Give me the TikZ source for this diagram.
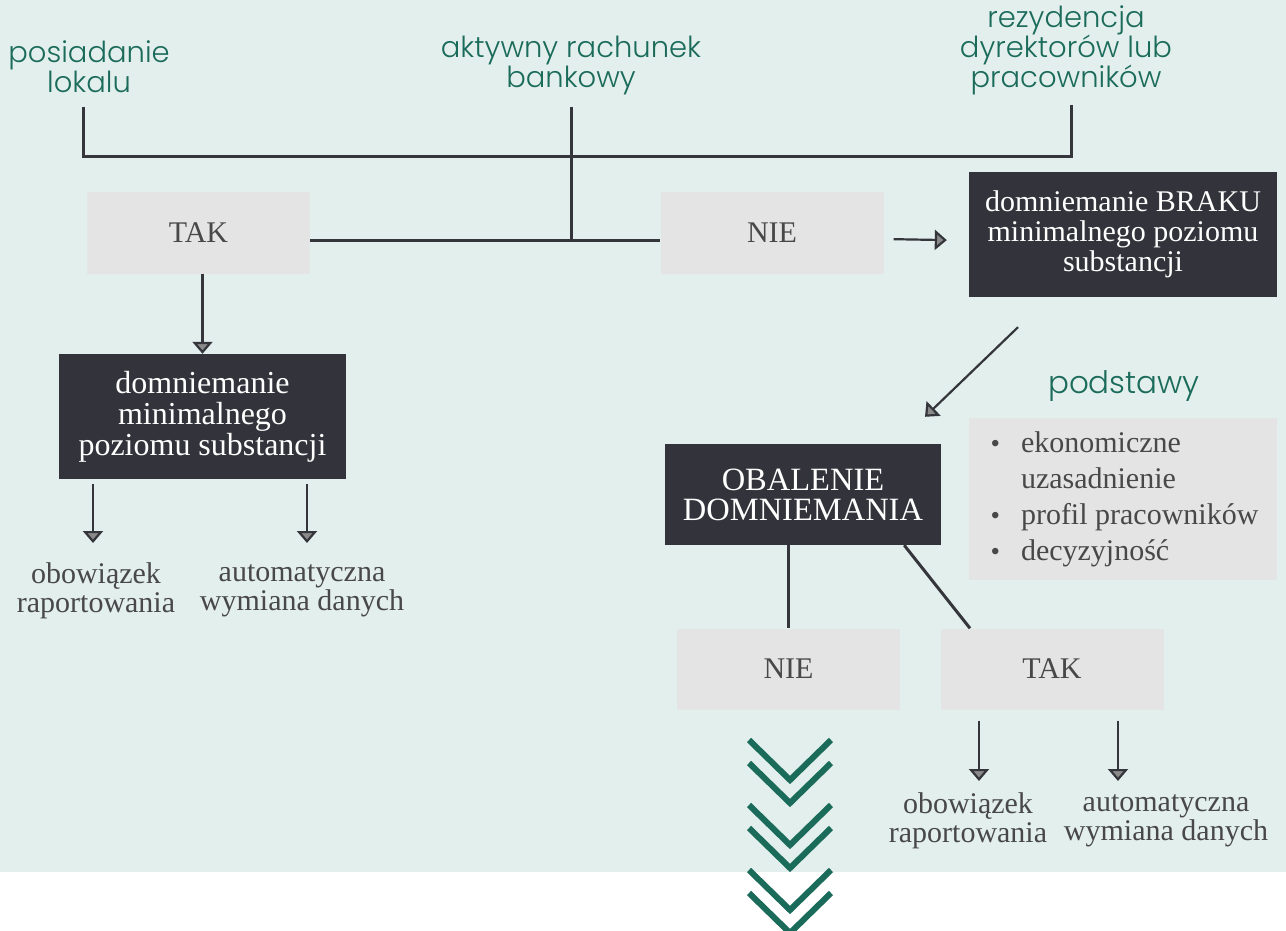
\documentclass[tikz,border=0pt]{standalone}
\usepackage{fontspec}
\setmainfont{Liberation Serif}
\newfontfamily\greenfont{Poppins Light}
\usetikzlibrary{arrows.meta}

\definecolor{bgteal}{HTML}{E3EFED}
\definecolor{boxgrey}{HTML}{E4E4E4}
\definecolor{boxdark}{HTML}{33333B}
\definecolor{labelgreen}{HTML}{1B6B5B}
\definecolor{textgrey}{HTML}{484848}
\definecolor{linedark}{HTML}{35353C}
\definecolor{headgrey}{HTML}{8A8A8A}

\tikzset{
  greybox/.style={fill=boxgrey, text=textgrey, minimum width=223pt, minimum height=81pt, inner sep=0pt, font=\fontsize{30}{30}\selectfont},
  darkbox/.style={fill=boxdark, text=white, align=center, inner sep=0pt, font=\fontsize{30}{30}\selectfont},
  greenlabel/.style={text=labelgreen, align=center, inner sep=0pt, font=\greenfont\fontsize{29}{30}\selectfont},
  result/.style={text=textgrey, align=center, inner sep=0pt, font=\fontsize{30}{29}\selectfont},
  link/.style={draw=linedark, line width=3pt},
  arr/.style={draw=linedark, line width=2.2pt, -{Triangle[width=20pt,length=12pt,fill=headgrey]}},
  chevron/.style={draw=labelgreen, line width=6pt}
}
\newcommand{\punkt}{{\fontsize{27}{27}\selectfont\textbullet}}

\begin{document}
\begin{tikzpicture}[x=1pt, y=-1pt]
	\fill[bgteal] (0,0) rectangle (1286,872);
	\useasboundingbox (0,0) rectangle (1286,931);
	% kryteria
	\node[greenlabel] (lokal) at (89,67) {posiadanie\\lokalu};
	\node[greenlabel] (rachunek) at (571,65) {aktywny rachunek\\bankowy};
	\node[greenlabel] (rezydencja) at (1066,50) {rezydencja\\dyrektorów lub\\pracowników};
	\coordinate (lokalend) at (83,107);
	\coordinate (rezend) at (1071,105);
	\coordinate (rachend) at (571,107);
	\coordinate (split) at (571,240);
	% pierwszy poziom
	\node[greybox] (tak) at (198.5,233) {TAK};
	\node[greybox] (nie) at (772,233) {NIE};
	\node[darkbox, minimum width=308pt, minimum height=125pt] (brak) at (1123,234.5) {domniemanie BRAKU\\minimalnego poziomu\\substancji};
	\node[darkbox, minimum width=287pt, minimum height=125pt, font=\fontsize{32}{31}\selectfont] (minimum) at (202.5,416.5) {domniemanie\\minimalnego\\poziomu substancji};
	\node[result] (obow1) at (96,591) {obowiązek\\raportowania};
	\node[result] (auto1) at (302,591) {automatyczna\\wymiana danych};
	% obalenie
	\node[greenlabel, font=\greenfont\fontsize{31}{31}\selectfont] (podstawy) at (1124,386) {podstawy};
	\node[fill=boxgrey, text=textgrey, minimum width=308pt, minimum height=162pt, font=\fontsize{30}{36}\selectfont] (lista) at (1123,499)
		{\hspace*{3pt}\begin{tabular}{@{}l@{\hspace{21pt}}l@{}}
			\punkt & ekonomiczne\\
			& uzasadnienie\\
			\punkt & profil pracowników\\
			\punkt & decyzyjność
		\end{tabular}};
	\node[darkbox, minimum width=276pt, minimum height=101pt, font=\fontsize{32.5}{30}\selectfont] (obalenie) at (803,494.5) {OBALENIE\\DOMNIEMANIA};
	\node[greybox] (nie2) at (788.5,669) {NIE};
	\node[greybox] (tak2) at (1052,669) {TAK};
	\node[result] (obow2) at (968,821) {obowiązek\\raportowania};
	\node[result] (auto2) at (1166,821) {automatyczna\\wymiana danych};

	\draw[link] (lokalend) -- ++(0,50) -| (rezend);
	\draw[link] (rachend) -- (split);
	\draw[link] ([yshift=-7pt]tak.east) -- ([yshift=-7pt]nie.west);
	\draw[arr, shorten <=10pt, shorten >=22pt] ([yshift=-6pt]nie.east) -- ([yshift=-6pt]brak.west);
	\draw[arr] ([xshift=4pt]tak.south) -- ([xshift=4pt]tak.south |- minimum.north);
	\draw[arr] ([yshift=-5pt]minimum.south -| 93,0) -- (93,543);
	\draw[arr] ([yshift=-5pt]minimum.south -| 307,0) -- (307,543);
	\draw[arr] ([xshift=-105pt, yshift=-30pt]brak.south) -- ([xshift=122pt, yshift=27pt]obalenie.north);
	\draw[link] (obalenie.south -| nie2.north) -- (nie2.north);
	\draw[link] ([xshift=-37pt]obalenie.south east) -- ([xshift=-82pt]tak2.north);
	\draw[arr] ([yshift=-11pt]tak2.south -| 979,0) -- (979,781);
	\draw[arr] ([yshift=-11pt]tak2.south -| 1118,0) -- (1118,781);
	% strzalki w dol
	\foreach \y in {740,763,805,828,870,893}
		\draw[chevron] (749,\y) -- (790,\y+40) -- (831,\y);
\end{tikzpicture}
\end{document}
